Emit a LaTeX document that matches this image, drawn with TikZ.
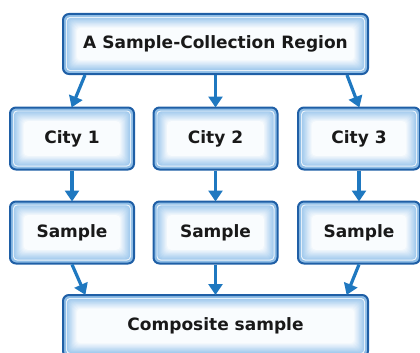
\documentclass[tikz,border=0pt]{standalone}
\usepackage{fontspec}
\setmainfont{DejaVu Sans}
\usetikzlibrary{arrows.meta}
\definecolor{bdr}{HTML}{1F5FA6}
\definecolor{band}{HTML}{8EBDE6}
\definecolor{glow}{HTML}{A3CBEE}
\definecolor{arr}{HTML}{1F78C0}
\tikzset{
 box/.style={rounded corners=6pt, draw=bdr, line width=2pt, align=center,
   font=\bfseries\fontsize{17}{20}\selectfont, text=black!90,
   path picture={
     \fill[band] (path picture bounding box.south west) rectangle (path picture bounding box.north east);
     \fill[white!85!band,rounded corners=4pt] ([shift={(3pt,3pt)}]path picture bounding box.south west) rectangle ([shift={(-3pt,-3pt)}]path picture bounding box.north east);
     \foreach \i in {0,...,11}{
       \pgfmathsetmacro\d{3.8+0.9*\i}
       \pgfmathsetmacro\p{100-8.5*\i}
       \fill[glow!\p!white,rounded corners=4pt] ([shift={(\d pt,\d pt)}]path picture bounding box.south west) rectangle ([shift={(-\d pt,-\d pt)}]path picture bounding box.north east);
     }
   }},
 conn/.style={arr, line width=3.2pt, -{Triangle[width=14pt,length=11pt]}, shorten >=-1pt}
}
\begin{document}
\begin{tikzpicture}[x=1pt,y=-1pt]
\useasboundingbox (0,0) rectangle (420,353);
\node[box, minimum width=305pt, minimum height=60pt] (top) at (215.5,44) {A Sample-Collection Region};
\node[box, minimum width=124pt, minimum height=62pt] (c1) at (72,138.5) {City 1};
\node[box, minimum width=124pt, minimum height=62pt] (c2) at (215.5,138.5) {City 2};
\node[box, minimum width=122pt, minimum height=62pt] (c3) at (359,138.5) {City 3};
\node[box, minimum width=124pt, minimum height=62pt] (s1) at (72,232.5) {Sample};
\node[box, minimum width=124pt, minimum height=62pt] (s2) at (215.5,232.5) {Sample};
\node[box, minimum width=122pt, minimum height=62pt] (s3) at (359,232.5) {Sample};
\node[box, minimum width=305pt, minimum height=62pt] (comp) at (215.5,326) {Composite sample};
\draw[conn] ([xshift=-130.5pt]top.south) -- (c1.north);
\draw[conn] (top.south) -- (c2.north);
\draw[conn] ([xshift=131.5pt]top.south) -- (c3.north);
\draw[conn] (c1.south) -- (s1.north);
\draw[conn] (c2.south) -- (s2.north);
\draw[conn] (c3.south) -- (s3.north);
\draw[conn] (s1.south) -- ([xshift=-130.5pt]comp.north);
\draw[conn] (s2.south) -- (comp.north);
\draw[conn] (s3.south) -- ([xshift=131.5pt]comp.north);
\end{tikzpicture}
\end{document}
